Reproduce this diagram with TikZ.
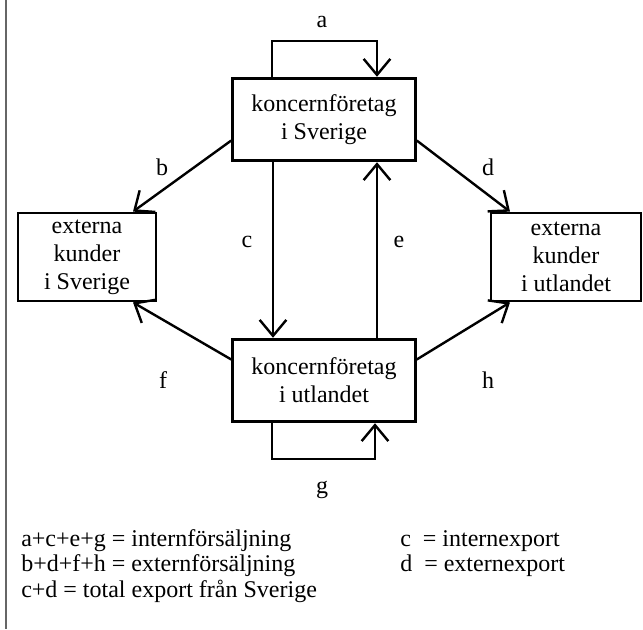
\documentclass[tikz,border=0pt]{standalone}
\usepackage{fontspec}
\setmainfont{Liberation Serif}
\usetikzlibrary{arrows.meta,calc}
\begin{document}
\begin{tikzpicture}[x=0.75pt,y=-0.75pt,
  box/.style={draw,line width=2.1pt,align=center,inner sep=0pt,font=\fontsize{18}{21}\selectfont},
  flow/.style={line width=1.8pt,-{Straight Barb[length=12pt,width=20pt]}},
  lbl/.style={inner sep=0pt,font=\fontsize{18}{21}\selectfont},
  legend/.style={anchor=west,inner sep=0pt,font=\fontsize{18}{19}\selectfont}]
\useasboundingbox (0,0) rectangle (643,629);
\draw[line width=0.8pt,color=gray!80!black] (6,0) -- (6,629);
\node[box,minimum width=137pt,minimum height=62pt] (ks) at (324,119.5) {koncernföretag\\i Sverige};
\node[box,minimum width=137pt,minimum height=62pt] (ku) at (324,380.5) {koncernföretag\\i utlandet};
\node[box,minimum width=103.5pt,minimum height=66pt] (eks) at (87,257) {externa\\kunder\\i Sverige};
\node[box,minimum width=112.5pt,minimum height=66pt] (eku) at (566,257) {externa\\kunder\\i utlandet};
\draw[flow] ($(ks.north)+(-52,0)$) -- ++(0,-36) -| ($(ks.north)+(53,0)$);
\draw[flow] ($(ku.south)+(-52,0)$) -- ++(0,36) -| ($(ku.south)+(51,0)$);
\draw[flow] ($(ks.south)+(-51,0)$) -- ($(ku.north)+(-51,0)$);
\draw[flow] ($(ku.north)+(53,0)$) -- ($(ks.south)+(53,0)$);
\draw[flow] ($(ks.west)+(0,21)$) -- ($(eks.north)+(46,0)$);
\draw[flow] ($(ks.east)+(0,21)$) -- ($(eku.north)+(-56,0)$);
\draw[flow] ($(ku.west)+(0,-21)$) -- ($(eks.south)+(46,0)$);
\draw[flow] ($(ku.east)+(0,-21)$) -- ($(eku.south)+(-56,0)$);
\node[lbl] (la) at (322,22) {a};
\node[lbl] (lb) at (162,167) {b};
\node[lbl] (lc) at (247,242) {c};
\node[lbl] (ld) at (488,167) {d};
\node[lbl] (le) at (399,242) {e};
\node[lbl] (lf) at (163,380) {f};
\node[lbl] (lg) at (322,490) {g};
\node[lbl] (lh) at (488,380) {h};
\node[legend] (l1) at (21,541) {a+c+e+g = internförsäljning};
\node[legend] (l2) at (21,566) {b+d+f+h = externförsäljning};
\node[legend] (l3) at (21,591) {c+d = total export från Sverige};
\node[legend] (r1) at (400,541) {c \ = internexport};
\node[legend] (r2) at (400,566) {d \ = externexport};
\end{tikzpicture}
\end{document}
